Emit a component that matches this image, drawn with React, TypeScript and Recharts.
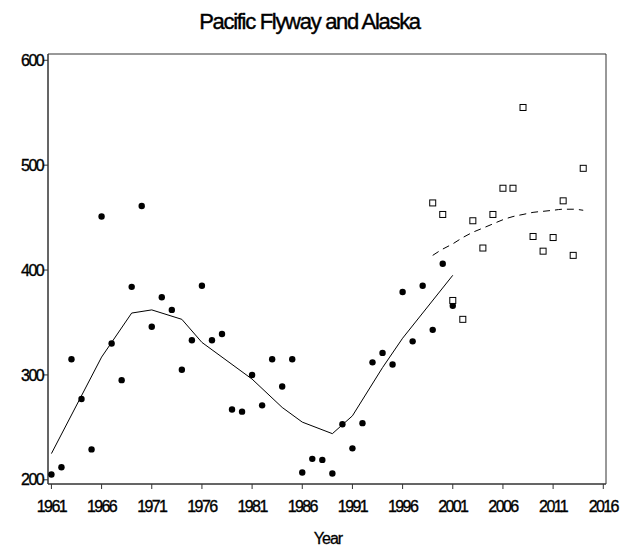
import React from "react";
import {
  ComposedChart,
  Scatter,
  Line,
  XAxis,
  YAxis,
  ReferenceArea,
} from "recharts";

// observed counts (filled dots), 1961-2001
const dotYears = [
  1961, 1962, 1963, 1964, 1965, 1966, 1967, 1968, 1969, 1970, 1971, 1972, 1973, 1974,
  1975, 1976, 1977, 1978, 1979, 1980, 1981, 1982, 1983, 1984, 1985, 1986, 1987, 1988,
  1989, 1990, 1991, 1992, 1993, 1994, 1995, 1996, 1997, 1998, 1999, 2000, 2001,
];
const dotValues = [
  205, 212, 315, 277, 229, 451, 330, 295, 384, 461, 346, 374, 362, 305,
  333, 385, 333, 339, 267, 265, 300, 271, 315, 289, 315, 207, 220, 219,
  206, 253, 230, 254, 312, 321, 310, 379, 332, 385, 343, 406, 366,
];

// new survey (open squares), 1999-2014
const squareYears = [
  1999, 2000, 2001, 2002, 2003, 2004, 2005, 2006, 2007, 2008, 2009, 2010, 2011, 2012,
  2013, 2014,
];
const squareValues = [
  464, 453, 371, 353, 447, 421, 453, 478, 478, 555, 432, 418, 431, 466, 414, 497,
];

// smoothed fit, old series
const smoothYears = [
  1961, 1966, 1969, 1971, 1974, 1976, 1981, 1984, 1986, 1989, 1991, 1994, 1996, 2001,
];
const smoothValues = [225, 317, 359, 362, 353, 331, 296, 269, 255, 244, 261, 307, 335, 395];

// smoothed fit, new series (dashed)
const fitYears = squareYears;
const fitValues = [
  414, 420, 425, 431, 436, 440, 444, 448, 451, 453, 455, 456, 457, 458, 458, 457,
];

const xTicks = [1961, 1966, 1971, 1976, 1981, 1986, 1991, 1996, 2001, 2006, 2011, 2016];
const yTicks = [200, 300, 400, 500, 600];

const toRows = (xs: number[], ys: number[]) =>
  xs.map((year, i) => ({ year, value: ys[i] }));

const dots = toRows(dotYears, dotValues);
const squares = toRows(squareYears, squareValues);
const smooth = toRows(smoothYears, smoothValues);
const fit = toRows(fitYears, fitValues);

const X_MIN = 1960.66;
const X_MAX = 2016.27;
const Y_MIN = 196;
const Y_MAX = 606;

const font = "'Liberation Sans', Arial, sans-serif";
const tickStyle = {
  fontSize: 16,
  fill: "#000",
  stroke: "#000",
  strokeWidth: 0.35,
  fontFamily: font,
  letterSpacing: -1.6,
};

const DotShape = (p: any) => <circle cx={p.cx} cy={p.cy} r={3.2} fill="#000" />;
const SquareShape = (p: any) => (
  <rect x={p.cx - 3} y={p.cy - 3} width={6} height={6} fill="#fff" stroke="#000" strokeWidth={1} />
);

export default function App() {
  return (
    <div style={{ position: "absolute", left: 0, top: 0, width: 632, height: 548, background: "#fff" }}>
      <div
        style={{
          position: "absolute",
          left: 0,
          width: 619,
          top: 9,
          textAlign: "center",
          fontFamily: font,
          fontSize: 22,
          letterSpacing: -1.3,
          lineHeight: "26px",
          color: "#000",
          WebkitTextStroke: "0.4px #000",
        }}
      >
        Pacific Flyway and Alaska
      </div>
      <ComposedChart
        width={632}
        height={548}
        margin={{ top: 54, right: 26, bottom: 0, left: 0 }}
      >
        <XAxis
          type="number"
          dataKey="year"
          domain={[X_MIN, X_MAX]}
          ticks={xTicks}
          allowDataOverflow
          height={64}
          tickSize={5}
          tickMargin={12}
          tick={tickStyle}
          stroke="#333"
        />
        <YAxis
          type="number"
          dataKey="value"
          domain={[Y_MIN, Y_MAX]}
          ticks={yTicks}
          allowDataOverflow
          width={48}
          tickSize={5}
          tickMargin={0}
          tick={tickStyle}
          stroke="#333"
        />
        <ReferenceArea
          x1={X_MIN}
          x2={X_MAX}
          y1={Y_MIN}
          y2={Y_MAX}
          fill="none"
          fillOpacity={0}
          stroke="#333"
          strokeWidth={1}
          ifOverflow="visible"
        />
        <Line
          data={smooth}
          dataKey="value"
          type="linear"
          stroke="#000"
          strokeWidth={1}
          dot={false}
          activeDot={false}
          isAnimationActive={false}
        />
        <Line
          data={fit}
          dataKey="value"
          type="monotone"
          stroke="#000"
          strokeWidth={1}
          strokeDasharray="7 5"
          dot={false}
          activeDot={false}
          isAnimationActive={false}
        />
        <Scatter data={dots} dataKey="value" shape={DotShape} isAnimationActive={false} />
        <Scatter data={squares} dataKey="value" shape={SquareShape} isAnimationActive={false} />
      </ComposedChart>
      <div
        style={{
          position: "absolute",
          left: 228,
          width: 200,
          top: 530,
          textAlign: "center",
          fontFamily: font,
          fontSize: 16,
          letterSpacing: -1,
          lineHeight: "18px",
          color: "#000",
          WebkitTextStroke: "0.3px #000",
        }}
      >
        Year
      </div>
    </div>
  );
}
